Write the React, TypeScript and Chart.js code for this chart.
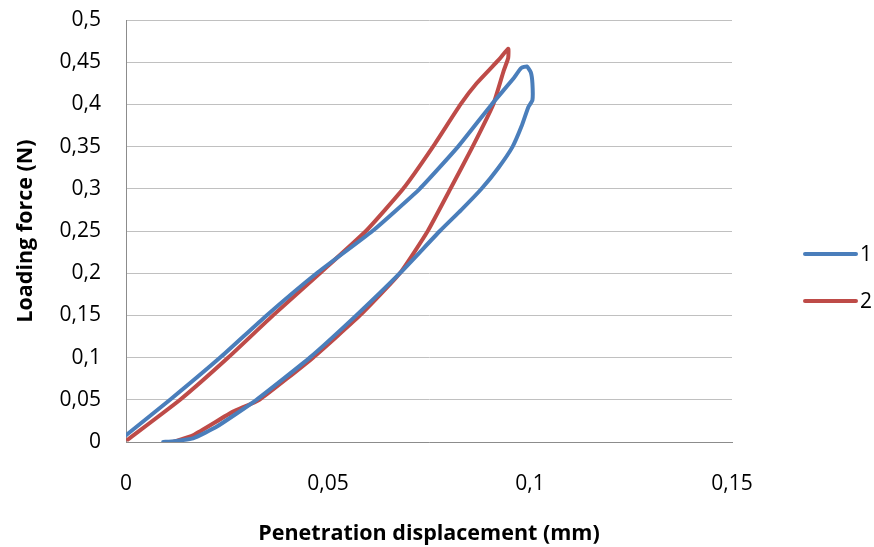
import React, { useEffect, useRef } from "react";
import { Chart, registerables } from "chart.js";

Chart.register(...registerables);

// ---- data ----
const seriesLabels = ["1", "2"];
const seriesColors = ["#4a7ebb", "#be4b48"];

// series 1 (blue): loading then unloading
const s1X = [0.0, 0.0109, 0.0233, 0.0348, 0.0472, 0.061, 0.0727, 0.0822, 0.0905, 0.0958, 0.0978, 0.0992, 0.1002, 0.1006, 0.1006, 0.0996, 0.0979, 0.0957, 0.0922, 0.088, 0.083, 0.0777, 0.0678, 0.057, 0.0455, 0.0323, 0.0224, 0.0166, 0.012, 0.0092];
const s1Y = [0.008, 0.05, 0.1, 0.15, 0.2, 0.25, 0.3, 0.35, 0.4, 0.43, 0.443, 0.445, 0.438, 0.425, 0.405, 0.397, 0.374, 0.35, 0.325, 0.3, 0.275, 0.25, 0.2, 0.15, 0.1, 0.05, 0.018, 0.0044, 0.001, 0.0];

// series 2 (red): loading then unloading
const s2X = [0.0005, 0.0134, 0.0253, 0.0364, 0.048, 0.0594, 0.0686, 0.076, 0.0828, 0.0868, 0.0923, 0.0946, 0.0946, 0.0935, 0.0909, 0.0858, 0.0803, 0.0747, 0.0678, 0.0579, 0.0463, 0.033, 0.0265, 0.0166, 0.0117];
const s2Y = [0.003, 0.05, 0.1, 0.15, 0.2, 0.25, 0.3, 0.35, 0.4, 0.425, 0.453, 0.466, 0.455, 0.44, 0.4, 0.35, 0.3, 0.25, 0.2, 0.15, 0.1, 0.05, 0.036, 0.008, 0.0];

const xTicks = [0, 0.05, 0.1, 0.15];
const yTicks = [0, 0.05, 0.1, 0.15, 0.2, 0.25, 0.3, 0.35, 0.4, 0.45, 0.5];

const xTitle = "Penetration displacement (mm)";
const yTitle = "Loading force (N)";

const FONT = "'Open Sans', sans-serif";
const fmt = (v: number) => String(Number(v.toFixed(2))).replace(".", ",");

const sideLegend = {
  id: "sideLegend",
  afterDraw(chart: any) {
    const ctx = chart.ctx;
    ctx.save();
    seriesLabels.forEach((lab, i) => {
      const y = 254 + i * 47;
      ctx.strokeStyle = seriesColors[i];
      ctx.lineWidth = 4;
      ctx.lineCap = "round";
      ctx.beginPath();
      ctx.moveTo(805, y);
      ctx.lineTo(856, y);
      ctx.stroke();
      ctx.fillStyle = "#000";
      ctx.font = `21px ${FONT}`;
      ctx.textBaseline = "middle";
      ctx.textAlign = "left";
      ctx.fillText(lab, 860, y + 1);
    });
    ctx.restore();
  },
};

export default function App() {
  const ref = useRef<HTMLCanvasElement | null>(null);

  useEffect(() => {
    if (!ref.current) return;
    const datasets = [
      { xs: s1X, ys: s1Y },
      { xs: s2X, ys: s2Y },
    ].map((s, i) => ({
      label: seriesLabels[i],
      data: s.xs.map((x, j) => ({ x, y: s.ys[j] })),
      borderColor: seriesColors[i],
      backgroundColor: seriesColors[i],
      borderWidth: 4,
      borderCapStyle: "round" as const,
      borderJoinStyle: "round" as const,
      pointRadius: 0,
      showLine: true,
      tension: 0.15,
    }));

    const chart = new Chart(ref.current, {
      type: "scatter",
      data: { datasets },
      plugins: [sideLegend],
      options: {
        animation: false,
        responsive: true,
        maintainAspectRatio: false,
        layout: { padding: { left: 0, top: 20, right: 142, bottom: 0 } },
        plugins: {
          legend: { display: false },
          tooltip: { enabled: false },
        },
        scales: {
          x: {
            type: "linear",
            min: 0,
            max: 0.15,
            afterBuildTicks: (s: any) => {
              s.ticks = xTicks.map((v) => ({ value: v }));
            },
            afterFit: (s: any) => {
              s.height = 105;
              s.paddingLeft = 0;
              s.paddingRight = 0;
            },
            ticks: {
              color: "#000",
              font: { family: FONT, size: 21 },
              padding: 29,
              maxRotation: 0,
              callback: (v: any) => fmt(Number(v)),
            },
            grid: { display: false, drawTicks: false },
            border: { display: true, color: "#8c8c8c", width: 1 },
            title: {
              display: true,
              text: xTitle,
              color: "#000",
              font: { family: FONT, size: 21.5, weight: "bold" },
              padding: { top: 0, bottom: 0 },
            },
          },
          y: {
            type: "linear",
            min: 0,
            max: 0.5,
            afterBuildTicks: (s: any) => {
              s.ticks = yTicks.map((v) => ({ value: v }));
            },
            afterFit: (s: any) => {
              s.width = 126;
              s.paddingTop = 0;
              s.paddingBottom = 0;
            },
            ticks: {
              color: "#000",
              font: { family: FONT, size: 21 },
              padding: 25,
              callback: (v: any) => fmt(Number(v)),
            },
            grid: { color: "#c0c0c0", lineWidth: 1, drawTicks: false },
            border: { display: true, color: "#8c8c8c", width: 1 },
            title: {
              display: true,
              text: yTitle,
              color: "#000",
              font: { family: FONT, size: 21.5, weight: "bold" },
              padding: { top: 13, bottom: 0 },
            },
          },
        },
      },
    });
    return () => chart.destroy();
  }, []);

  return (
    <div style={{ position: "fixed", left: 0, top: 0, width: 874, height: 547, background: "#fff" }}>
      <canvas ref={ref} />
    </div>
  );
}
